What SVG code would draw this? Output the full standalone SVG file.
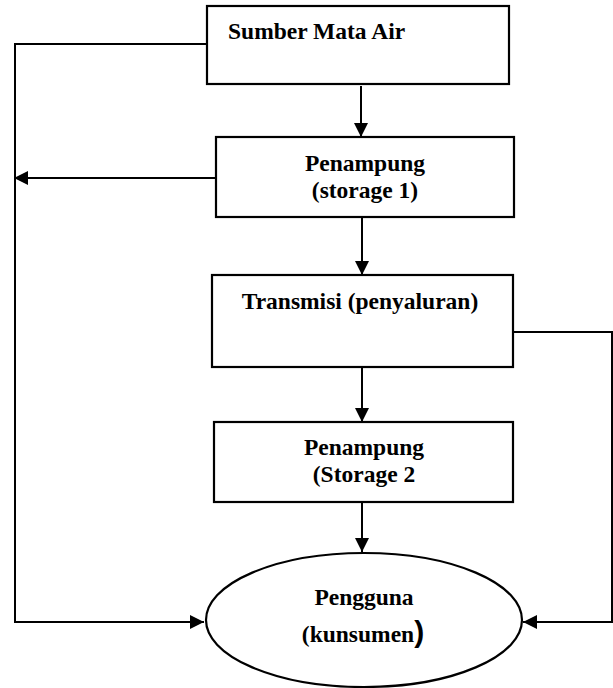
<svg xmlns="http://www.w3.org/2000/svg" width="613" height="688" viewBox="0 0 613 688">
<style>
.box{fill:#fff;stroke:#000;stroke-width:2.2}
.t{font-family:"Liberation Serif","Times New Roman",serif;font-weight:bold;font-size:23.5px;fill:#000}
.c{fill:none;stroke:#000;stroke-width:2}
</style>
<defs>
<marker id="ah" viewBox="0 0 14 14" refX="14" refY="7" markerWidth="14" markerHeight="14" markerUnits="userSpaceOnUse" orient="auto">
<path d="M0,0 L14,7 L0,14 Z" fill="#000"/>
</marker>
</defs>
<rect width="613" height="688" fill="#fff"/>
<g id="connectors">
<polyline class="c" points="207,44 15,44 15,622 204,622" marker-end="url(#ah)"/>
<line class="c" x1="216" y1="178" x2="14" y2="178" marker-end="url(#ah)"/>
<polyline class="c" points="513,332 612,332 612,622 523,622" marker-end="url(#ah)"/>
<line class="c" x1="361" y1="86" x2="361" y2="137" stroke-width="2.5" marker-end="url(#ah)"/>
<line class="c" x1="362" y1="218" x2="362" y2="275" stroke-width="2.5" marker-end="url(#ah)"/>
<line class="c" x1="362" y1="368" x2="362" y2="422" stroke-width="2.5" marker-end="url(#ah)"/>
<line class="c" x1="362" y1="503" x2="362" y2="552" stroke-width="2.5" marker-end="url(#ah)"/>
</g>
<g id="sumber">
<rect class="box" x="207" y="6" width="302" height="78"/>
<text class="t" x="228" y="39">Sumber Mata Air</text>
</g>
<g id="penampung1">
<rect class="box" x="216" y="137" width="298" height="80"/>
<text class="t" x="365" y="171" text-anchor="middle">Penampung</text>
<text class="t" x="365" y="198" text-anchor="middle">(storage 1)</text>
</g>
<g id="transmisi">
<rect class="box" x="212" y="275" width="301" height="92"/>
<text class="t" x="360" y="309" text-anchor="middle">Transmisi (penyaluran)</text>
</g>
<g id="penampung2">
<rect class="box" x="214" y="422" width="299" height="80"/>
<text class="t" x="364" y="455" text-anchor="middle">Penampung</text>
<text class="t" x="364" y="482" text-anchor="middle">(Storage 2</text>
</g>
<g id="pengguna">
<ellipse class="box" cx="364" cy="620" rx="158" ry="67" stroke-width="2"/>
<text class="t" x="364" y="605" text-anchor="middle">Pengguna</text>
<text class="t" x="363" y="642" text-anchor="middle">(kunsumen<tspan style="font-family:'Liberation Sans',Arial,sans-serif;font-size:30px">)</tspan></text>
</g>
</svg>
